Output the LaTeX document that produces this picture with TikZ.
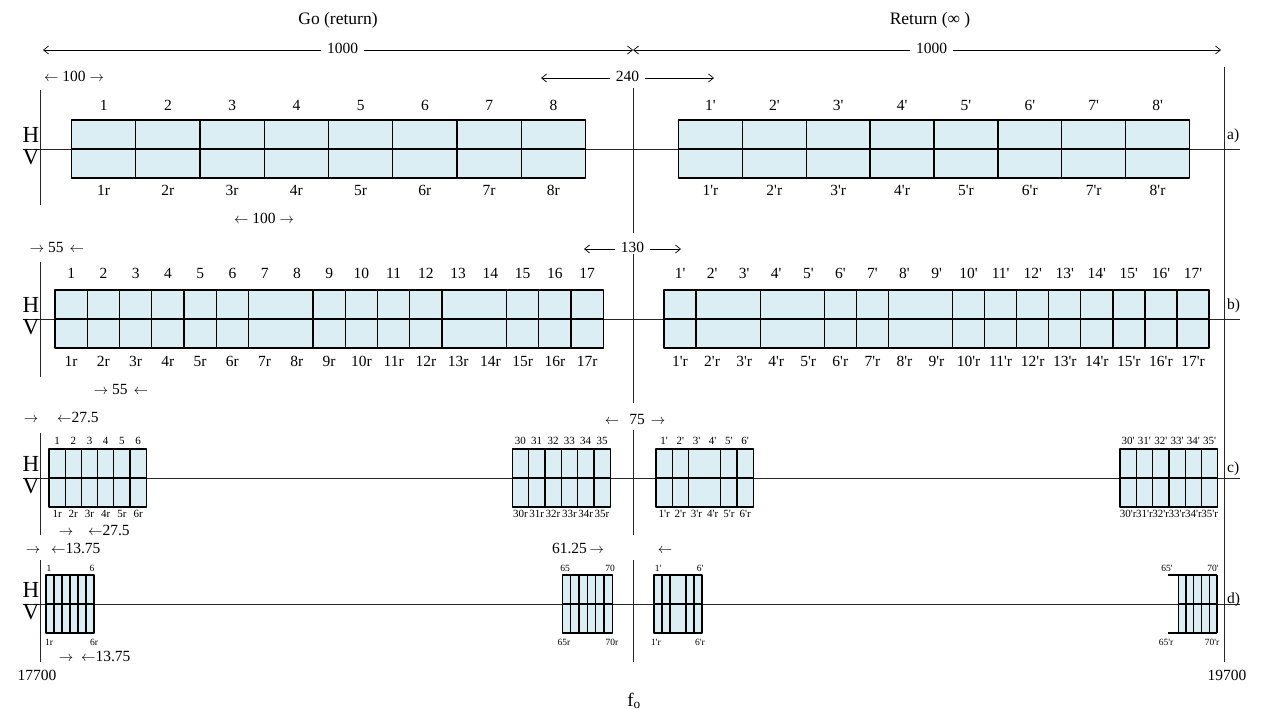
\documentclass[tikz,border=0pt]{standalone}
\usepackage{fontspec}
\setmainfont{Liberation Serif}
\usetikzlibrary{arrows.meta}
\definecolor{cellblue}{RGB}{218,238,243}
\newcommand{\prm}{\textquotesingle}
\newcommand{\larr}{$\leftarrow$}
\newcommand{\rarr}{$\rightarrow$}
% one group of cells: #1 mid y, #2 left x, #3 cell width, #4 cells, #5 inner walls
\newcommand{\cellgroup}[5]{%
  \fill[cellblue] (#2,#1-29) rectangle ({#2+#3*#4},#1+29);
  \foreach \k in {#5} \draw[cell] ({#2+#3*\k},#1-29) -- ++(0,58);
  \draw[cell] (#2,#1-29) rectangle ({#2+#3*#4},#1+29);
  \draw[cell] (#2,#1) -- ({#2+#3*#4},#1);
}
\begin{document}
\begin{tikzpicture}[x=1pt, y=-1pt, line join=round, >={Straight Barb[length=5pt,width=8pt]},
  cell/.style={draw=black, line width=1.3pt},
  guide/.style={draw=black!85, line width=1pt},
  dimline/.style={line width=0.7pt},
  head/.style={font=\fontsize{17.5}{20}\selectfont, inner sep=0pt},
  lbl/.style={font=\fontsize{15.5}{18}\selectfont, inner sep=0pt, text height=0.68em, text depth=0pt},
  sml/.style={font=\fontsize{11}{13}\selectfont, inner sep=0pt, text height=0.68em, text depth=0pt},
  tny/.style={font=\fontsize{9.5}{11}\selectfont, inner sep=0pt, text height=0.68em, text depth=0pt},
  hv/.style={font=\fontsize{23}{26}\selectfont, inner sep=0pt, text height=0.66em, text depth=0pt},
  gap/.style={lbl, fill=white, inner xsep=6pt, inner ysep=2pt}]
\fill[white] (0,0) rectangle (1263,709);
\useasboundingbox (0,0) rectangle (1263,709);

% headings and overall spans
\node[head] (go) at (338,20) {Go (return)};
\node[head] (ret) at (930,20) {Return (∞ )};
\coordinate (s0) at (43,50); \coordinate (s1) at (633,50); \coordinate (s2) at (1221,50);
\draw[dimline,<->] (s0) -- node[gap,pos=0.508] (w1) {1000} (s1);
\draw[dimline,<->] (s1) -- node[gap,pos=0.508] (w2) {1000} (s2);

% axes
\foreach \m in {149,319,478,604} \draw[guide] (23,\m) -- (1240,\m);
\draw[guide] (40,90) -- (40,205) (40,262) -- (40,377) (40,433) -- (40,535) (40,560) -- (40,662);
\draw[guide] (633,88) -- (633,233) (633,253) -- (633,403) (633,430) -- (633,535) (633,560) -- (633,662);
\draw[guide] (1224,67) -- (1224,662);
\foreach \m/\t in {149/a,319/b,478/c,604/d} {
  \node[hv] (h\t) at (31,\m-10) {H};
  \node[hv] (v\t) at (31,\m+12) {V};
}
\node[lbl,anchor=west] (taga) at (1227,136) {a)};
\node[lbl,anchor=west] (tagb) at (1227,306) {b)};
\node[lbl,anchor=west] (tagc) at (1227,469) {c)};
\node[lbl,anchor=west] (tagd) at (1227,600) {d)};

% row a
\cellgroup{149}{71.5}{64.25}{8}{1,...,7}
\cellgroup{149}{678.5}{63.875}{8}{1,...,7}
\foreach \i in {1,...,8} {
  \node[lbl] (a\i) at ({71.5+64.25*(\i-0.5)},107) {\i};
  \node[lbl] (ar\i) at ({71.5+64.25*(\i-0.5)},192) {\i r};
  \node[lbl] (ap\i) at ({678.5+63.875*(\i-0.5)},107) {\i\prm};
  \node[lbl] (apr\i) at ({678.5+63.875*(\i-0.5)},192) {\i\prm r};
}
\node[lbl] (d100) at (74,78) {\larr\ 100 \rarr};
\coordinate (t0) at (541,78); \coordinate (t1) at (714,78);
\draw[dimline,<->] (t0) -- node[gap] (d240) {240} (t1);
\node[lbl] (d100b) at (264,220) {\larr\ 100 \rarr};

% row b
\cellgroup{319}{55}{32.25}{17}{1,2,3,4,5,6,8,9,10,11,12,14,15,16}
\cellgroup{319}{664}{32.06}{17}{1,3,5,6,7,9,10,11,12,13,14,15,16}
\foreach \i in {1,...,17} {
  \node[lbl] (b\i) at ({55+32.25*(\i-0.5)},275) {\i};
  \node[lbl] (br\i) at ({55+32.25*(\i-0.5)},363) {\i r};
  \node[lbl] (bp\i) at ({664+32.06*(\i-0.5)},275) {\i\prm};
  \node[lbl] (bpr\i) at ({664+32.06*(\i-0.5)},363) {\i\prm r};
}
\node[lbl] (d55) at (57,249) {\rarr\ 55\hspace{6pt}\larr};
\coordinate (u0) at (584,249); \coordinate (u1) at (681,249);
\draw[dimline,<->] (u0) -- node[gap] (d130) {130} (u1);
\node[lbl] (d55b) at (121,391) {\rarr\ 55\hspace{6pt}\larr};

% row c
\cellgroup{478}{49}{16.2}{6}{1,...,5}
\cellgroup{478}{512.2}{16.33}{6}{1,...,5}
\cellgroup{478}{656}{16.2}{6}{1,2,4,5}
\cellgroup{478}{1120}{16.3}{6}{1,...,5}
\foreach \i [evaluate=\i as \n using int(\i+29)] in {1,...,6} {
  \node[sml] (c\i) at ({49+16.2*(\i-0.5)},441) {\i};
  \node[sml] (cr\i) at ({49+16.2*(\i-0.5)},514) {\i r};
  \node[sml] (cc\i) at ({512.2+16.33*(\i-0.5)},441) {\n};
  \node[sml] (ccr\i) at ({512.2+16.33*(\i-0.5)},514) {\n r};
  \node[sml] (cp\i) at ({656+16.2*(\i-0.5)},441) {\i\prm};
  \node[sml] (cpr\i) at ({656+16.2*(\i-0.5)},514) {\i\prm r};
  \node[sml] (ccp\i) at ({1120+16.3*(\i-0.5)},441) {\n\prm};
  \node[sml] (ccpr\i) at ({1120+16.3*(\i-0.5)},514) {\n\prm r};
}
\node[lbl] (c275a) at (31,419) {\rarr};
\node[lbl,anchor=west] (c275b) at (57,419) {\larr 27.5};
\node[lbl] (d75) at (635,421) {\larr\hspace{10pt}75\hspace{6pt}\rarr};
\node[lbl] (c275c) at (66,532) {\rarr};
\node[lbl,anchor=west] (c275d) at (88,532) {\larr 27.5};

% row d
\cellgroup{604}{46}{8}{6}{1,...,5}
\cellgroup{604}{562.4}{8.3}{6}{1,...,5}
\cellgroup{604}{654}{8}{6}{1,2,4,5}
\fill[cellblue] (1178.4,575) rectangle (1217.1,633);
\foreach \x in {1178.4,1186.1,1193.8,1201.6,1209.4,1217.1} \draw[cell] (\x,575) -- (\x,633);
\draw[cell] (1168,575) -- (1217.1,575) (1168,633) -- (1217.1,633) (1178.4,604) -- (1217.1,604);
\path
  (49,568) node[tny] (dd1) {1}    (92,568) node[tny] (dd6) {6}
  (49,642) node[tny] (ddr1) {1r}  (94,642) node[tny] (ddr6) {6r}
  (565,568) node[tny] (dd65) {65}   (610,568) node[tny] (dd70) {70}
  (564,642) node[tny] (ddr65) {65r} (612,642) node[tny] (ddr70) {70r}
  (658,568) node[tny] (ddp1) {1\prm}   (700,568) node[tny] (ddp6) {6\prm}
  (656,642) node[tny] (ddpr1) {1\prm r} (700,642) node[tny] (ddpr6) {6\prm r}
  (1167,568) node[tny] (ddp65) {65\prm}   (1213,568) node[tny] (ddp70) {70\prm}
  (1166,642) node[tny] (ddpr65) {65\prm r} (1212,642) node[tny] (ddpr70) {70\prm r};
\node[lbl] (e1) at (33,550) {\rarr};
\node[lbl,anchor=west] (e2) at (51,550) {\larr 13.75};
\node[lbl] (d6125) at (578,550) {61.25\,\rarr};
\node[lbl] (e3) at (665,550) {\larr};
\node[lbl] (e4) at (66,658) {\rarr};
\node[lbl,anchor=west] (e5) at (81,658) {\larr 13.75};

% frequency limits
\node[lbl] (f0) at (37,677) {17700};
\node[lbl] (f1) at (1227,677) {19700};
\node[font=\fontsize{19}{21}\selectfont, anchor=base, inner sep=0pt] (fo) at (634,706) {f\textsubscript{o}};
\end{tikzpicture}
\end{document}
